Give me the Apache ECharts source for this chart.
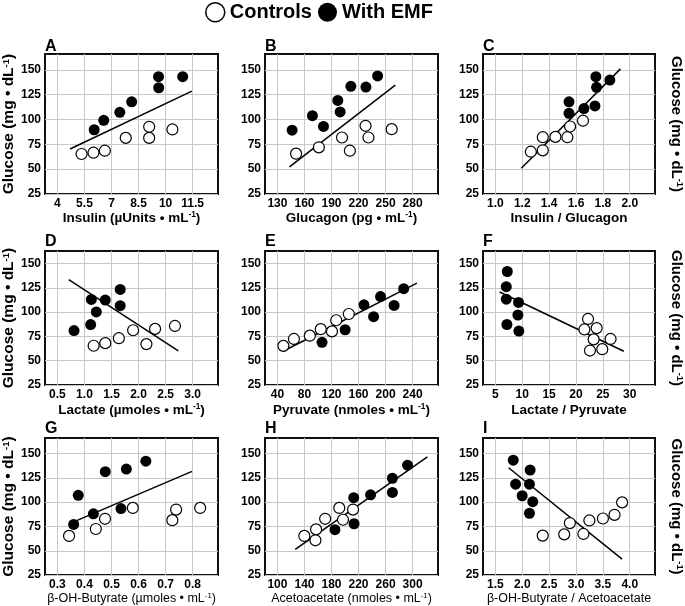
<!DOCTYPE html>
<html><head><meta charset="utf-8">
<script src="https://cdn.jsdelivr.net/npm/echarts@6/dist/echarts.min.js"></script>
<style>html,body{margin:0;padding:0;background:#fff}#c{width:685px;height:606px}</style>
</head><body><div id="c"></div>
<script>
// ---------- data ----------
const seriesNames = ['Controls', 'With EMF'];
const yTicks = ['25', '50', '75', '100', '125', '150'];

// A: Insulin
const controlsA = [[5.34,65.3],[6.0,66.6],[6.63,68.6],[7.79,81.5],[9.09,92.7],[9.09,81.5],[10.38,90]];
const emfA = [[6.04,89.7],[6.57,99.2],[7.46,107.3],[8.12,117.8],[9.61,143.2],[9.62,132],[10.95,143.2]];
const fitA = [[4.70,70.3],[11.46,128.6]];
const xTicksA = ['4','5.5','7','8.5','10','11.5'];
// B: Glucagon
const controlsB = [[150.7,65.6],[176,72],[201.7,81.9],[210.4,68.6],[227.8,93.7],[231,81.9],[256.8,90.3]];
const emfB = [[146.3,89.3],[168.8,103.9],[181.1,93],[197,119.2],[199.6,107.6],[211.5,133.4],[228.2,132.7],[241.2,143.9]];
const fitB = [[143.4,52.4],[260.8,134.7]];
const xTicksB = ['130','160','190','220','250','280'];
// C: Insulin / Glucagon
const controlsC = [[1.264,67.6],[1.353,69],[1.353,82.2],[1.447,82.5],[1.536,82.2],[1.556,93],[1.652,98.8]];
const emfC = [[1.548,117.8],[1.548,106.3],[1.659,111],[1.748,143.2],[1.753,132.4],[1.741,113.7],[1.852,139.8]];
const fitC = [[1.193,51],[1.931,151]];
const xTicksC = ['1.0','1.2','1.4','1.6','1.8','2.0'];
// D: Lactate
const controlsD = [[1.17,65.4],[1.385,68.1],[1.636,73.2],[1.9,81.4],[2.146,67.1],[2.306,82.8],[2.674,85.8]];
const emfD = [[0.807,81.1],[1.127,113.1],[1.115,87.2],[1.219,100.2],[1.385,112.5],[1.661,123.4],[1.661,106.7]];
const fitD = [[0.709,133.6],[2.736,60.2]];
const xTicksD = ['0.5','1.0','1.5','2.0','2.5','3.0'];
// E: Pyruvate
const controlsE = [[48.8,65.3],[64.4,72.4],[87.9,75.8],[104.1,82.5],[120.7,80.2],[127,91.7],[145.6,98.1]];
const emfE = [[106,69],[140.2,81.9],[168.1,107.6],[182.3,95.4],[192.6,116.1],[212.6,107],[226.8,124.2]];
const fitE = [[48.3,59.8],[246.4,130]];
const xTicksE = ['40','80','120','160','200','240'];
// F: Lactate / Pyruvate
const controlsF = [[22.24,93],[21.56,82.2],[23.84,83.6],[23.28,72],[26.43,72.4],[22.6,60.5],[24.89,61.9]];
const emfF = [[7.22,141.9],[7.03,126.3],[7.03,113.4],[9.31,110],[9.19,97.1],[7.15,87.3],[9.37,80.5]];
const fitF = [[5.8,120.8],[28.9,59.8]];
const xTicksF = ['5','10','15','20','25','30'];
// G: beta-OH-Butyrate
const controlsG = [[0.343,65.3],[0.442,72.4],[0.476,82.9],[0.579,94.1],[0.725,81.5],[0.739,92.4],[0.828,94.1]];
const emfG = [[0.360,77.1],[0.377,107],[0.433,88],[0.477,131.4],[0.535,93.4],[0.555,134.1],[0.627,142.2]];
const fitG = [[0.358,79.5],[0.798,131.7]];
const xTicksG = ['0.3','0.4','0.5','0.6','0.7','0.8'];
// H: Acetoacetate
const controlsH = [[139.8,65.3],[157.2,72],[156.2,60.8],[170.6,82.9],[191.5,94.1],[197,81.9],[211.9,92.4]];
const emfH = [[185.1,71.7],[213.4,77.8],[212.9,104.6],[237.8,107.6],[270.1,124.6],[270.1,110],[292.5,138.1]];
const fitH = [[126.4,51.4],[321.9,146.6]];
const xTicksH = ['100','140','180','220','260','300'];
// I: beta-OH-Butyrate / Acetoacetate
const controlsI = [[2.381,65.6],[2.781,66.9],[2.886,78.5],[3.138,67.3],[3.249,81.2],[3.501,83.2],[3.717,87],[3.858,99.8]];
const emfI = [[1.833,143.2],[1.876,118.5],[2.147,133.1],[2.134,118.5],[1.999,106.6],[2.196,100.5],[2.134,88.6]];
const fitI = [[1.746,135.4],[3.858,41.5]];
const xTicksI = ['1.5','2.0','2.5','3.0','3.5','4.0'];

const yTitle = 'Glucose (mg \u2022 dL{sup|-1})';
const panels = [
  {letter:'A', controls:controlsA, emf:emfA, fit:fitA, ticks:xTicksA, xTitle:'Insulin (\u00b5Units \u2022 mL{sup|-1})'},
  {letter:'B', controls:controlsB, emf:emfB, fit:fitB, ticks:xTicksB, xTitle:'Glucagon (pg \u2022 mL{sup|-1})'},
  {letter:'C', controls:controlsC, emf:emfC, fit:fitC, ticks:xTicksC, xTitle:'Insulin / Glucagon'},
  {letter:'D', controls:controlsD, emf:emfD, fit:fitD, ticks:xTicksD, xTitle:'Lactate (\u00b5moles \u2022 mL{sup|-1})'},
  {letter:'E', controls:controlsE, emf:emfE, fit:fitE, ticks:xTicksE, xTitle:'Pyruvate (nmoles \u2022 mL{sup|-1})'},
  {letter:'F', controls:controlsF, emf:emfF, fit:fitF, ticks:xTicksF, xTitle:'Lactate / Pyruvate'},
  {letter:'G', controls:controlsG, emf:emfG, fit:fitG, ticks:xTicksG, xTitle:'\u03b2-OH-Butyrate (\u00b5moles \u2022 mL{sup|-1})'},
  {letter:'H', controls:controlsH, emf:emfH, fit:fitH, ticks:xTicksH, xTitle:'Acetoacetate (nmoles \u2022 mL{sup|-1})'},
  {letter:'I', controls:controlsI, emf:emfI, fit:fitI, ticks:xTicksI, xTitle:'\u03b2-OH-Butyrate / Acetoacetate'}
];

// ---------- layout ----------
const FONT = 'Liberation Sans, Arial, sans-serif';
const cols = [{left:45, width:173}, {left:265, width:173}, {left:483, width:173}];
const rows = [{top:54, height:140, ymax:166, letterTop:39, nameGap:16, nameSize:13.5, nameWeight:'bold'},
              {top:251, height:134, ymax:163, letterTop:234, nameGap:18, nameSize:13.5, nameWeight:'bold'},
              {top:438, height:140, ymax:166, letterTop:421, nameGap:14, nameSize:12.5, nameWeight:'normal'}];

function fmt(labels) {
  const vals = labels.map(Number);
  return function (v) {
    let k = 0, d = Infinity;
    vals.forEach((x, i) => { const e = Math.abs(x - v); if (e < d) { d = e; k = i; } });
    return labels[k];
  };
}
function richSup(size, weight) {
  return {sup: {fontSize: size * 0.62, fontWeight: weight, fontFamily: FONT, color: '#000', verticalAlign: 'top'}};
}

const grid = [], xAxis = [], yAxis = [], series = [], title = [];
const yVals = yTicks.map(Number);
panels.forEach((p, i) => {
  const r = rows[Math.floor(i / 3)], c = cols[i % 3], col = i % 3;
  grid.push({left: c.left, top: r.top, width: c.width, height: r.height, show: true,
             borderColor: '#111', borderWidth: 2, backgroundColor: 'transparent', containLabel: false});
  const xv = p.ticks.map(Number), step = xv[1] - xv[0];
  xAxis.push({
    gridIndex: i, type: 'value',
    min: +(xv[0] - 0.46 * step).toFixed(4), max: +(xv[xv.length - 1] + 0.94 * step).toFixed(4),
    axisLine: {show: false}, axisTick: {show: false, customValues: xv},
    axisLabel: {customValues: xv, formatter: fmt(p.ticks), fontSize: 12, fontWeight: 'bold',
                color: '#000', fontFamily: FONT, margin: 4},
    splitLine: {show: true, lineStyle: {color: '#c8c8c8', width: 1}},
    name: p.xTitle, nameLocation: 'middle', nameGap: r.nameGap,
    nameTextStyle: {fontSize: r.nameSize, fontWeight: r.nameWeight, color: '#000', fontFamily: FONT,
                    rich: richSup(r.nameSize, r.nameWeight)}
  });
  const yBase = {
    gridIndex: i, type: 'value', min: 25, max: r.ymax,
    axisLine: {show: false}, axisTick: {show: false, customValues: yVals},
    axisLabel: {customValues: yVals, formatter: fmt(yTicks), fontSize: 12, fontWeight: 'bold',
                color: '#000', fontFamily: FONT, margin: 4},
    splitLine: {show: true, lineStyle: {color: '#c8c8c8', width: 1}}
  };
  if (col === 0) {
    Object.assign(yBase, {name: yTitle, nameLocation: 'middle', nameGap: 27, nameRotate: 90,
      nameTextStyle: {fontSize: 15.5, fontWeight: 'bold', color: '#000', fontFamily: FONT, rich: richSup(15.5, 'bold')}});
  }
  yAxis.push(yBase);
  title.push({text: p.letter, left: c.left, top: r.letterTop, padding: 0,
              textStyle: {fontSize: 16, fontWeight: 'bold', color: '#000', fontFamily: FONT}});
  series.push({type: 'line', xAxisIndex: i, yAxisIndex: i, data: p.fit, symbol: 'none', silent: true,
               lineStyle: {color: '#000', width: 1.5}, z: 2});
  series.push({name: seriesNames[0], type: 'scatter', xAxisIndex: i, yAxisIndex: i, data: p.controls,
               symbolSize: 11, itemStyle: {color: '#fff', borderColor: '#000', borderWidth: 1.2, opacity: 1}, z: 3});
  series.push({name: seriesNames[1], type: 'scatter', xAxisIndex: i, yAxisIndex: i, data: p.emf,
               symbolSize: 11, itemStyle: {color: '#000', opacity: 1}, z: 3});
});
// right-hand Glucose titles on the third column
[2, 5, 8].forEach(i => {
  const r = rows[Math.floor(i / 3)];
  yAxis.push({gridIndex: i, type: 'value', position: 'right', min: 25, max: r.ymax,
    axisLine: {show: false}, axisTick: {show: false}, axisLabel: {show: false}, splitLine: {show: false},
    name: yTitle, nameLocation: 'middle', nameGap: 14, nameRotate: -90,
    nameTextStyle: {fontSize: 15, fontWeight: 'bold', color: '#000', fontFamily: FONT, rich: richSup(15, 'bold')}});
});

const chart = echarts.init(document.getElementById('c'), null, {renderer: 'canvas'});
chart.setOption({
  animation: false,
  backgroundColor: '#fff',
  textStyle: {fontFamily: FONT},
  title: title,
  legend: {
    left: 205, top: 2, padding: 0, itemWidth: 19, itemHeight: 19, itemGap: 6, selectedMode: false,
    textStyle: {fontSize: 20, fontWeight: 'bold', color: '#000', fontFamily: FONT},
    data: [
      {name: seriesNames[0], icon: 'circle', itemStyle: {color: '#fff', borderColor: '#000', borderWidth: 1.5}},
      {name: seriesNames[1], icon: 'circle', itemStyle: {color: '#000'}}
    ]
  },
  grid: grid, xAxis: xAxis, yAxis: yAxis, series: series
});
</script></body></html>
